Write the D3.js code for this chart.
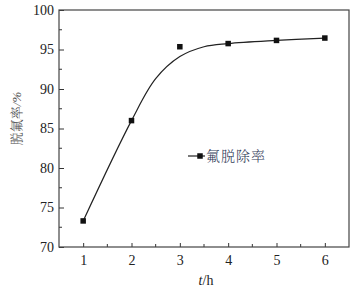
<!DOCTYPE html>
<html>
<head>
<meta charset="utf-8">
<script src="https://cdn.jsdelivr.net/npm/d3@7"></script>
<style>
    body { margin: 0; background: #fff; }
    svg { display: block; }
</style>
</head>
<body>
<div id="chart"></div>
<script>
// measured points
var hours = [1, 2, 3, 4, 5, 6];
var removal = [73.3, 86.0, 95.35, 95.75, 96.15, 96.45];
// fitted curve (does not pass through the t=3 point)
var fitHours = [1, 2, 2.5, 3, 3.5, 4, 5, 6];
var fitRemoval = [73.3, 86.0, 91.3, 94.1, 95.35, 95.75, 96.15, 96.45];
var xTicks = [1, 2, 3, 4, 5, 6];
var yTicks = [70, 75, 80, 85, 90, 95, 100];
var legendLabel = "氟脱除率";

function drawChart(options) {
    var margin = {top: options.marginTop, right: options.marginRight, bottom: options.marginBottom, left: options.marginLeft},
        width = options.width - margin.left - margin.right,
        height = options.height - margin.top - margin.bottom;

    var svg = d3.select(options.container).append("svg")
        .attr("width", options.width)
        .attr("height", options.height);

    var g = svg.append("g")
        .attr("transform", "translate(" + margin.left + "," + margin.top + ")");

    var x = d3.scaleLinear().domain([0.5, 6.5]).range([0, width]);
    var y = d3.scaleLinear().domain([70, 100]).range([height, 0]);

    // minor ticks
    var xMinor = d3.range(1.5, 6.5, 1);
    var yMinor = d3.range(72.5, 100, 5);

    var xg = g.append("g")
        .attr("transform", "translate(0," + height + ")")
        .call(d3.axisBottom(x).tickValues(xTicks).tickSizeInner(-4).tickSizeOuter(0).tickPadding(8).tickFormat(d3.format("d")));
    xg.append("g").selectAll("line").data(xMinor).enter().append("line")
        .attr("x1", function (d) { return x(d); })
        .attr("x2", function (d) { return x(d); })
        .attr("y1", 0).attr("y2", -3);

    var yg = g.append("g")
        .call(d3.axisLeft(y).tickValues(yTicks).tickSizeInner(-5).tickSizeOuter(0).tickPadding(5));
    yg.append("g").selectAll("line").data(yMinor).enter().append("line")
        .attr("y1", function (d) { return y(d); })
        .attr("y2", function (d) { return y(d); })
        .attr("x1", 0).attr("x2", 3);

    svg.selectAll(".domain").remove();
    svg.selectAll(".tick text")
        .style("font-family", "'Liberation Serif', 'DejaVu Serif', serif")
        .style("font-size", "14px")
        .style("fill", "#222");
    svg.selectAll("line").style("stroke", "#333").style("stroke-width", 1);

    // frame
    g.append("rect")
        .attr("x", 0).attr("y", 0)
        .attr("width", width).attr("height", height)
        .style("fill", "none")
        .style("stroke", "#444")
        .style("stroke-width", 1.2);

    // fitted curve
    var line = d3.line()
        .x(function (d, i) { return x(fitHours[i]); })
        .y(function (d) { return y(d); })
        .curve(d3.curveCatmullRom.alpha(0.5));
    g.append("path")
        .datum(fitRemoval)
        .attr("d", line)
        .style("fill", "none")
        .style("stroke", "#222")
        .style("stroke-width", 1.2);

    // markers
    var s = 5.5;
    g.selectAll(".pt").data(removal).enter().append("rect")
        .attr("class", "pt")
        .attr("x", function (d, i) { return x(hours[i]) - s / 2; })
        .attr("y", function (d) { return y(d) - s / 2; })
        .attr("width", s).attr("height", s)
        .style("fill", "#111");

    // legend
    var lg = g.append("g").attr("transform", "translate(" + (188 - margin.left) + "," + (156 - margin.top) + ")");
    lg.append("line").attr("x1", 0).attr("x2", 17).attr("y1", 0).attr("y2", 0)
        .style("stroke", "#222").style("stroke-width", 1.2);
    lg.append("rect").attr("x", 12 - s / 2).attr("y", -s / 2).attr("width", s).attr("height", s).style("fill", "#111");
    lg.append("text").attr("x", 18).attr("y", 0).attr("dy", "0.36em")
        .text(legendLabel)
        .style("font-family", "'Noto Serif CJK SC', 'Noto Sans CJK SC', sans-serif")
        .style("font-size", "14px")
        .style("font-weight", 300)
        .style("letter-spacing", "1px")
        .style("fill", "#34405a");

    // axis titles
    var yt = svg.append("text")
        .attr("transform", "translate(21," + (margin.top + height / 2 - 10) + ") rotate(-90)")
        .attr("text-anchor", "middle")
        .style("font-size", "13px")
        .style("fill", "#444");
    yt.append("tspan").style("font-family", "'Noto Serif CJK SC', 'Noto Sans CJK SC', sans-serif").style("font-weight", 300).text("脱氟率");
    yt.append("tspan").style("font-family", "'Liberation Serif', serif").style("font-style", "italic").text("/%");

    var xt = svg.append("text")
        .attr("x", margin.left + x(3.5) + 2)
        .attr("y", 285)
        .attr("text-anchor", "middle")
        .style("font-family", "'Liberation Serif', serif")
        .style("font-size", "14px")
        .style("fill", "#222");
    xt.append("tspan").style("font-style", "italic").text("t");
    xt.append("tspan").text("/h");
}

drawChart({
    container: "#chart",
    width: 358,
    height: 289,
    marginTop: 10,
    marginBottom: 42,
    marginLeft: 59,
    marginRight: 9
});
</script>
</body>
</html>
